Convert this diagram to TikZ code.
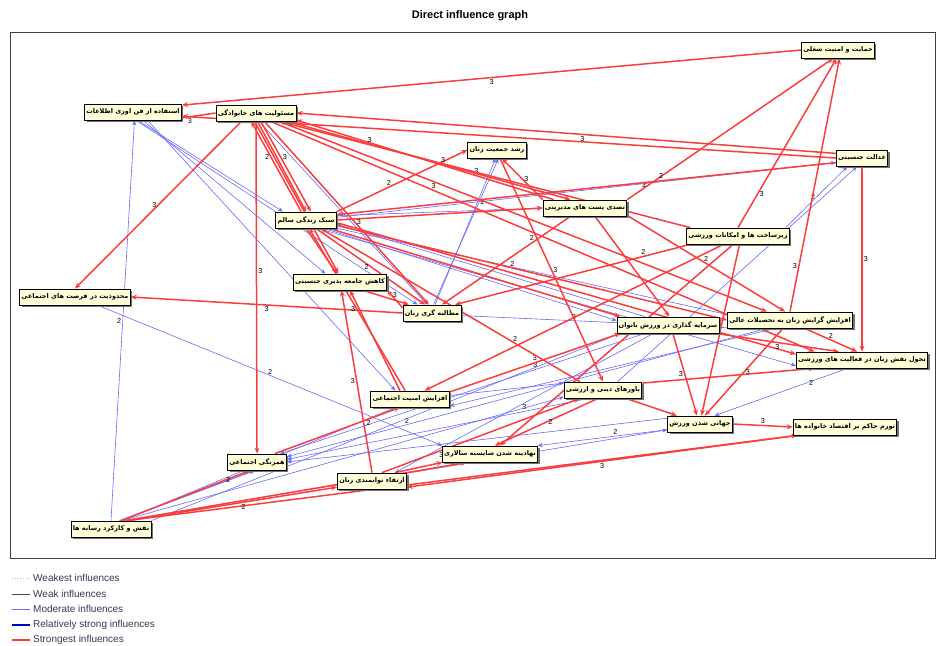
\documentclass[tikz,border=0pt]{standalone}
\usepackage{fontspec}
\usetikzlibrary{arrows.meta,shadows,backgrounds}
\TeXXeTstate=1
\newfontfamily\fa[Script=Arabic]{DejaVu Sans}
\newfontfamily\ls{Liberation Sans}
\newcommand\rtl[1]{\beginR #1\endR}
\definecolor{boxfill}{RGB}{255,255,218}
\definecolor{redc}{RGB}{250,62,62}
\definecolor{bluec}{RGB}{105,105,250}
\definecolor{legtext}{RGB}{55,55,85}
\tikzset{
  box/.style={draw=black, line width=0.8pt, fill=boxfill, font=\fa\bfseries\fontsize{6.5}{8}\selectfont,
    inner sep=1.8pt, minimum height=16pt,
    drop shadow={shadow xshift=2pt, shadow yshift=-2pt, fill=black!55, opacity=1}},
  redarr/.style={draw=redc, line width=1.5pt, -{Stealth[length=6pt,width=5pt]}},
  bluearr/.style={draw=bluec, line width=0.6pt, -{Stealth[length=5pt,width=4pt]}},
  lab/.style={font=\ls\fontsize{7.2}{8}\selectfont, inner sep=1.2pt, text=black},
  leg/.style={font=\ls\fontsize{10}{11}\selectfont, text=legtext, anchor=west, inner sep=0pt},
}
\begin{document}
\begin{tikzpicture}[x=1pt,y=-1pt]
\useasboundingbox (0,0) rectangle (941,645);
\node[font=\ls\bfseries\fontsize{11}{13}\selectfont] (title) at (470,16) {Direct influence graph};
\draw[black!75, line width=0.8pt] (10,32) rectangle (935,558);

% nodes
\node[box] (hs)   at (838,50)  {\rtl{حمایت و امنیت شغلی}};
\node[box] (it)   at (133,112) {\rtl{استفاده از فن اوری اطلاعات}};
\node[box] (fr)   at (256,113) {\rtl{مسئولیت های خانوادگی}};
\node[box] (pg)   at (497,150) {\rtl{رشد جمعیت زنان}};
\node[box] (gj)   at (862,158) {\rtl{عدالت جنسیتی}};
\node[box] (mp)   at (585,208) {\rtl{تصدی پست های مدیریتی}};
\node[box] (hl)   at (306,220) {\rtl{سبک زندگی سالم}};
\node[box] (inf)  at (738,236) {\rtl{زیرساخت ها و امکانات ورزشی}};
\node[box] (lim)  at (75,297)  {\rtl{محدودیت در فرصت های اجتماعی}};
\node[box] (gs)   at (340,282) {\rtl{کاهش جامعه پذیری جنسیتی}};
\node[box] (dem)  at (432,313) {\rtl{مطالبه گری زنان}};
\node[box] (edu)  at (790,320) {\rtl{افزایش گرایش زنان به تحصیلات عالی}};
\node[box] (inv)  at (668,325) {\rtl{سرمایه گذاری در ورزش بانوان}};
\node[box] (rol)  at (862,360) {\rtl{تحول نقش زنان در فعالیت های ورزشی}};
\node[box] (sec)  at (410,399) {\rtl{افزایش امنیت اجتماعی}};
\node[box] (rel)  at (603,390) {\rtl{باورهای دینی و ارزشی}};
\node[box] (glo)  at (700,424) {\rtl{جهانی شدن ورزش}};
\node[box] (infl) at (845,427) {\rtl{تورم حاکم بر اقتصاد خانواده ها}};
\node[box] (mer)  at (490,454) {\rtl{نهادینه شدن شایسته سالاری}};
\node[box] (con)  at (257,462) {\rtl{همرنگی اجتماعی}};
\node[box] (emp)  at (372,481) {\rtl{ارتقاء توانمندی زنان}};
\node[box] (med)  at (111,529) {\rtl{نقش و کارکرد رسانه ها}};

\begin{scope}[on background layer]
% moderate (blue)
\draw[bluearr] (med.north) -- node[lab,left,pos=.5]{2} (it.-80);
\draw[bluearr] (lim.-20) -- node[lab,above,pos=.5]{2} (mer.170);
\draw[bluearr] (it.-60) -- (hl.160);
\draw[bluearr] (it.-40) -- (gs.150);
\draw[bluearr] (it.-70) -- (dem.150);
\draw[bluearr] (it.-30) -- (sec.150);
\draw[bluearr] (hl.5) -- (gj.-170);
\draw[bluearr] (hl.8) -- (mp.west);
\draw[bluearr] (hl.-15) -- (edu.175);
\draw[bluearr] (hl.-25) -- (inv.175);
\draw[bluearr] (hl.-35) -- (rol.-175);
\draw[bluearr] (dem.70) -- (pg.-100);
\draw[bluearr] (dem.80) -- node[lab,right,pos=.7]{2} (pg.-80);
\draw[bluearr] (inf.10) -- node[lab,left,pos=.5]{2} (gj.-150);
\draw[bluearr] (rel.30) -- (gj.-120);
\draw[bluearr] (inv.-160) -- node[lab,above,pos=.3]{3} (con.20);
\draw[bluearr] (edu.-160) -- node[lab,above,pos=.75]{2} (con.10);
\draw[bluearr] (inv.-150) -- node[lab,below,pos=.5]{3} (emp.20);
\draw[bluearr] (edu.-150) -- (sec.-10);
\draw[bluearr] (rol.-150) -- node[lab,right,pos=.3]{2} (glo.30);
\draw[bluearr] (med.north east) -- (inv.-170);
\draw[bluearr] (med.38) -- (rel.-170);
\draw[bluearr] (med.33) -- (glo.-170);
\draw[bluearr] (med.45) -- (con.-110);
\draw[bluearr] (med.42) -- (con.-100);
\draw[bluearr] (med.36) -- (sec.-150);
\draw[bluearr] (sec.5) -- (rel.170);
\draw[bluearr] (rel.-150) -- (con.5);
\draw[bluearr] (glo.170) -- (con.0);
\draw[bluearr] (dem.-5) -- node[lab,above,pos=.4]{3} (edu.-170);
\draw[bluearr] (fr.-70) -- (dem.120);
\draw[bluearr] (inv.160) -- (hl.-8);
\draw[bluearr] (glo.190) -- node[lab,above,pos=.4]{2} (mer.10);

% strongest (red)
\draw[redarr] (hs.west) -- node[lab,below]{3} (it.8);
\draw[redarr] (gj.west) -- (it.-5);
\draw[redarr] (gj.170) -- node[lab,below,pos=.47]{3} (fr.east);
\draw[redarr] (fr.west) -- node[lab,below,pos=.5]{3} (it.-15);
\draw[redarr] (mp.north east) -- node[lab,left,pos=.1]{3} (hs.-120);
\draw[redarr] (inf.north) -- node[lab,right,pos=.2]{3} (hs.-100);
\draw[redarr] (edu.north) -- node[lab,left,pos=.18]{3} (hs.-80);
\draw[redarr] (gj.south) -- node[lab,right]{3} (rol.north);
\draw[redarr] (fr.-150) -- node[lab,left]{3} (lim.north);
\draw[redarr] (dem.west) -- node[lab,below,pos=.5]{3} (lim.east);
\draw[redarr] (fr.south) -- node[lab,right,pos=.45]{3} (con.north);
\draw[redarr] (emp.north) -- node[lab,left,pos=.5]{3} (gs.-80);
\draw[redarr] (fr.-60) -- node[lab,right,pos=.4]{3} (hl.60);
\draw[redarr] (hl.120) -- node[lab,left,pos=.6]{2} (fr.-120);
\draw[redarr] (fr.-80) -- (hl.north);
\draw[redarr] (hl.15) -- node[lab,above,pos=.4]{2} (pg.west);
\draw[redarr] (mp.north west) -- node[lab,right,pos=.5]{3} (pg.-60);
\draw[redarr] (pg.-70) -- node[lab,right,pos=.5]{3} (rel.north);
\draw[redarr] (hl.east) -- (mp.west);
\draw[redarr] (mp.165) -- node[lab,above,pos=.3]{3} (fr.-10);
\draw[redarr] (inf.170) -- node[lab,above,pos=.78]{3} (fr.-20);
\draw[redarr] (hl.-5) -- (rol.175);
\draw[redarr] (fr.-30) -- node[lab,above,pos=.3]{3} (rol.170);
\draw[redarr] (hl.-10) -- node[lab,above,pos=.45]{2} (edu.west);
\draw[redarr] (hl.-20) -- (inv.170);
\draw[redarr] (hl.-40) -- node[lab,left,pos=.5]{2} (dem.130);
\draw[redarr] (fr.-45) -- node[lab,right,pos=.55]{3} (dem.110);
\draw[redarr] (fr.-100) -- (gs.100);
\draw[redarr] (gs.-20) -- (dem.160);
\draw[redarr] (dem.170) -- node[lab,above]{3} (gs.-10);
\draw[redarr] (inf.190) -- node[lab,above,pos=.2]{2} (dem.20);
\draw[redarr] (inf.-150) -- (sec.30);
\draw[redarr] (inf.-80) -- (glo.80);
\draw[redarr] (edu.-30) -- node[lab,above,pos=.5]{2} (rol.120);
\draw[redarr] (inv.-10) -- node[lab,below,pos=.5]{3} (rol.160);
\draw[redarr] (edu.-130) -- node[lab,right,pos=.5]{3} (glo.60);
\draw[redarr] (inv.-60) -- node[lab,left,pos=.5]{3} (glo.110);
\draw[redarr] (rel.10) -- (rol.-170);
\draw[redarr] (rel.-120) -- node[lab,right,pos=.5]{2} (mer.60);
\draw[redarr] (rel.-20) -- (glo.160);
\draw[redarr] (glo.east) -- node[lab,above]{3} (infl.west);
\draw[redarr] (infl.-170) -- node[lab,below,pos=.5]{3} (emp.-10);
\draw[redarr] (med.28) -- (infl.190);
\draw[redarr] (med.40) -- node[lab,right,pos=.8]{2} (con.-130);
\draw[redarr] (med.25) -- node[lab,below,pos=.55]{2} (emp.190);
\draw[redarr] (med.30) -- (mer.200);
\draw[redarr] (emp.20) -- (mer.190);
\draw[redarr] (emp.40) -- node[lab,below,pos=.3]{3} (rel.-160);
\draw[redarr] (sec.10) -- node[lab,above,pos=.5]{3} (inv.190);
\draw[redarr] (sec.120) -- node[lab,left,pos=.5]{3} (hl.-70);
\draw[redarr] (sec.140) -- (gs.-40);
\draw[redarr] (con.25) -- node[lab,below,pos=.75]{2} (sec.-140);
\draw[redarr] (rel.160) -- node[lab,above,pos=.25]{2} (hl.-30);
\draw[redarr] (mp.-40) -- (inv.80);
\draw[redarr] (mp.-10) -- node[lab,above,pos=.5]{2} (edu.120);
\draw[redarr] (mp.-150) -- node[lab,above,pos=.3]{2} (dem.40);
\draw[redarr] (gj.190) -- node[lab,above,pos=.35]{2} (hl.10);
\draw[redarr] (inf.-120) -- (mer.40);
\draw[redarr] (hl.-90) -- (gs.110);
\draw[redarr] (fr.-15) -- node[lab,above,pos=.55]{3} (mp.150);
\draw[redarr] (fr.-20) -- (edu.160);
\end{scope}

% legend
\draw[black!25, dotted, line width=0.7pt] (12,578) -- (30,578);
\node[leg] (l1) at (33,578) {Weakest influences};
\draw[black!70, line width=0.6pt] (12,594) -- (30,594);
\node[leg] (l2) at (33,594) {Weak influences};
\draw[bluec, line width=0.8pt] (12,609) -- (30,609);
\node[leg] (l3) at (33,609) {Moderate influences};
\draw[blue!80!black, line width=1.6pt] (12,625) -- (30,625);
\node[leg] (l4) at (33,625) {Relatively strong influences};
\draw[redc, line width=1.8pt] (12,640) -- (30,640);
\node[leg] (l5) at (33,640) {Strongest influences};
\end{tikzpicture}
\end{document}
